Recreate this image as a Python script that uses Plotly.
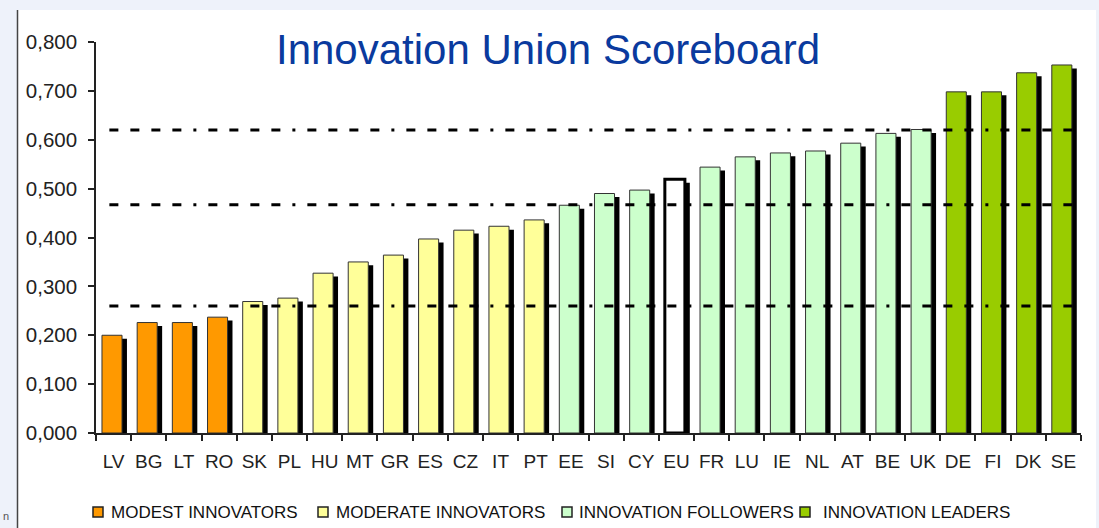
import plotly.graph_objects as go

countries = ["LV", "BG", "LT", "RO", "SK", "PL", "HU", "MT", "GR", "ES", "CZ", "IT", "PT",
             "EE", "SI", "CY", "EU", "FR", "LU", "IE", "NL", "AT", "BE", "UK", "DE", "FI", "DK", "SE"]
scores = [0.200, 0.226, 0.226, 0.237, 0.269, 0.276, 0.327, 0.350, 0.364, 0.397, 0.415, 0.423, 0.436,
          0.466, 0.490, 0.497, 0.519, 0.544, 0.565, 0.573, 0.577, 0.593, 0.613, 0.621, 0.698, 0.698, 0.737, 0.753]
groups = ["modest"] * 4 + ["moderate"] * 9 + ["follower"] * 3 + ["eu"] + ["follower"] * 7 + ["leader"] * 4

group_names = ["modest", "moderate", "follower", "leader"]
group_labels = ["MODEST INNOVATORS", "MODERATE INNOVATORS", "INNOVATION FOLLOWERS", "INNOVATION LEADERS"]
group_colors = ["#FF9900", "#FFFF99", "#CCFFCC", "#99CC00"]

thresholds = [0.260, 0.467, 0.620]
y_ticks = [0.0, 0.1, 0.2, 0.3, 0.4, 0.5, 0.6, 0.7, 0.8]

# layout geometry (pixels)
W, H = 1099, 528
L, R, T, B = 96, 18, 42, 95
pw = W - L - R
ph = H - T - B

BAR_W = 0.57
BAR_OFF = -0.33
SH_OFF = -0.19
SH_DROP = 0.007

# legend layout (pixel x of marker / text starts)
LEG_MARK_X = [93, 318, 562, 800]
LEG_TEXT_X = [109, 334, 577, 821]
LEG_Y = 512


def px_x(p):
    return (p - L) / pw


def px_y(p):
    return 1 - (p - T) / ph


fig = go.Figure()

# shadows
fig.add_trace(go.Bar(
    x=countries, y=[v - SH_DROP for v in scores],
    width=BAR_W, offset=SH_OFF,
    marker=dict(color="#000000", line=dict(width=0)),
    showlegend=False, hoverinfo="skip",
))

for name, label, color in zip(group_names, group_labels, group_colors):
    xs = [c for c, g in zip(countries, groups) if g == name]
    ys = [v for v, g in zip(scores, groups) if g == name]
    fig.add_trace(go.Bar(
        x=xs, y=ys, name=label,
        width=BAR_W, offset=BAR_OFF,
        marker=dict(color=color, line=dict(color="#333333", width=1)),
        showlegend=False,
    ))

xs = [c for c, g in zip(countries, groups) if g == "eu"]
ys = [v for v, g in zip(scores, groups) if g == "eu"]
fig.add_trace(go.Bar(
    x=xs, y=ys, name="EU", width=BAR_W, offset=BAR_OFF,
    marker=dict(color="#FFFFFF", line=dict(color="#000000", width=3)),
    showlegend=False,
))

shapes = []
annotations = []

bg = "#EEF2FA"
shapes.append(dict(type="rect", xref="paper", yref="paper", x0=px_x(0), x1=px_x(17), y0=px_y(H), y1=px_y(0),
                   fillcolor=bg, line=dict(width=0), layer="below"))
shapes.append(dict(type="rect", xref="paper", yref="paper", x0=px_x(0), x1=px_x(W), y0=px_y(10), y1=px_y(0),
                   fillcolor=bg, line=dict(width=0), layer="below"))
shapes.append(dict(type="rect", xref="paper", yref="paper", x0=px_x(1096), x1=px_x(W), y0=px_y(H), y1=px_y(0),
                   fillcolor=bg, line=dict(width=0), layer="below"))
shapes.append(dict(type="line", xref="paper", yref="paper", x0=px_x(17.5), x1=px_x(17.5), y0=px_y(H), y1=px_y(10),
                   line=dict(color="#444444", width=1.5)))

for t in thresholds:
    shapes.append(dict(type="line", xref="x", yref="y", x0=-0.12, x1=27.3, y0=t, y1=t,
                       line=dict(color="#000000", width=3,
                                 dash="9px,12px,9px,12px,9px,12px,9px,12px,3px,12px"),
                       layer="above"))

# custom legend
for label, color, mx, tx in zip(group_labels, group_colors, LEG_MARK_X, LEG_TEXT_X):
    shapes.append(dict(type="rect", xref="paper", yref="paper",
                       x0=px_x(mx), x1=px_x(mx + 10), y0=px_y(LEG_Y + 5), y1=px_y(LEG_Y - 5),
                       fillcolor=color, line=dict(color="#222222", width=1.5)))
    annotations.append(dict(text=label, xref="paper", yref="paper", x=px_x(tx), y=px_y(LEG_Y),
                            xanchor="left", yanchor="middle", showarrow=False,
                            font=dict(size=17, color="#111111")))

annotations.append(dict(text="n", xref="paper", yref="paper", x=px_x(1), y=px_y(516), xanchor="left",
                        yanchor="middle", showarrow=False, font=dict(size=11, color="#555555")))

fig.update_layout(
    width=W, height=H,
    margin=dict(l=L, r=R, t=T, b=B, pad=0, autoexpand=False),
    paper_bgcolor="#FFFFFF", plot_bgcolor="#FFFFFF",
    barmode="overlay",
    separators=",.",
    showlegend=False,
    font=dict(family="Liberation Sans, Arial, sans-serif", color="#222222"),
    title=dict(text="Innovation Union Scoreboard", x=548 / W, xanchor="center",
               y=1 - 49 / H, yanchor="middle",
               font=dict(family="Liberation Sans, Arial, sans-serif", size=42, color="#0A3A9E")),
    xaxis=dict(type="category", categoryorder="array", categoryarray=countries,
               range=[-0.5, len(countries) - 0.5], showline=True, linecolor="#222222", linewidth=1.5,
               ticks="outside", tickson="boundaries", ticklen=6, tickcolor="#222222", tickwidth=1.5,
               tickangle=0, ticklabelstandoff=10,
               showgrid=False, tickfont=dict(size=19, color="#222222"), zeroline=False),
    yaxis=dict(range=[0, 0.8], tickvals=y_ticks, tickformat=".3f",
               showline=True, linecolor="#222222", linewidth=1.5,
               ticks="outside", ticklen=6, tickcolor="#222222", tickwidth=1.5,
               ticklabelstandoff=7,
               showgrid=False, zeroline=False, tickfont=dict(size=20.5, color="#222222")),
    shapes=shapes,
    annotations=annotations,
)

fig.write_html("out.html", config={"displayModeBar": False},
               post_script="document.body.style.margin='0px';document.body.style.overflow='hidden';")
